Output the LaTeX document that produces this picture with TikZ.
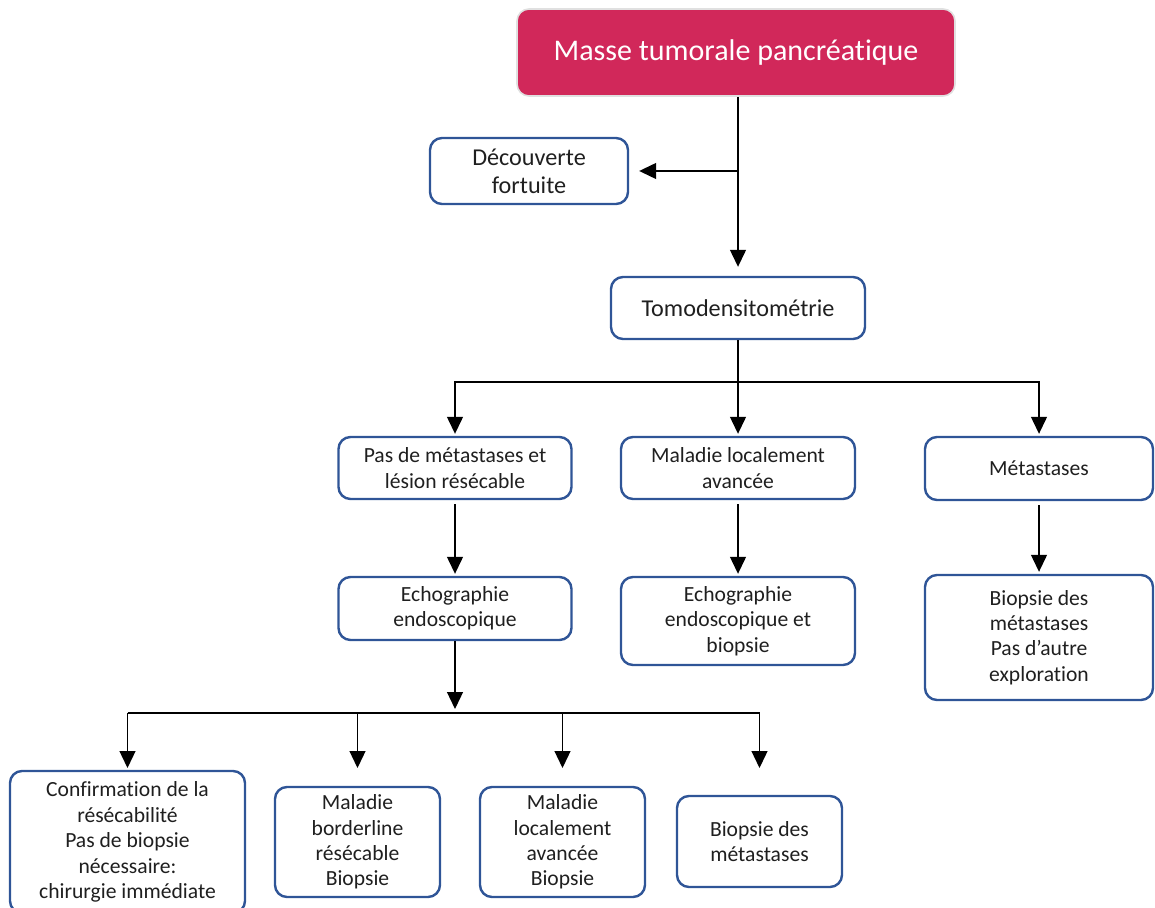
\documentclass[tikz,border=0pt]{standalone}
\usepackage{fontspec}
\setmainfont[Ligatures={NoCommon}]{Carlito}
\usetikzlibrary{arrows.meta}
\definecolor{titlered}{HTML}{D1285A}
\definecolor{boxblue}{HTML}{2F5597}
\tikzset{
	box/.style={draw=boxblue, line width=1.2pt, rounded corners=6pt, align=center, inner sep=0pt,
		text=black!88, font=\fontsize{10.8}{12.7}\selectfont},
	bigtext/.style={font=\fontsize{12.1}{14}\selectfont},
	link/.style={-{Triangle[width=8pt,length=8.5pt]}, line width=0.65pt, shorten >=1pt}
}

\begin{document}
\begin{tikzpicture}[x=0.5pt, y=-0.5pt]
		\useasboundingbox (0, 0) rectangle (1155, 908);
		\node[fill=titlered, draw=black!12, line width=0.8pt, rounded corners=6pt,
			minimum width=219pt, minimum height=43.5pt, text=white,
			font=\fontsize{15}{18}\selectfont] (masse) at (736, 52.5) {Masse tumorale pancréatique};
		\node[box, bigtext, minimum width=99pt, minimum height=33pt] (decouv) at (529, 171) {Découverte\\fortuite};
		\node[box, bigtext, minimum width=127pt, minimum height=31pt] (tomo) at (738, 308) {Tomodensitométrie};
		
		\node[box, minimum width=116.5pt, minimum height=31pt] (pasmeta) at (455, 468) {Pas de métastases et\\lésion résécable};
		\node[box, minimum width=117pt, minimum height=31pt] (malloc) at (738, 468) {Maladie localement\\avancée};
		\node[box, minimum width=114pt, minimum height=31.5pt] (meta) at (1039, 468.5) {Métastases};
		
		\node[box, minimum width=116.5pt, minimum height=31.5pt] (echo) at (455, 608.5) {Echographie\\endoscopique};
		\node[box, minimum width=117pt, minimum height=44pt] (echobiop) at (738, 621) {Echographie\\endoscopique et\\biopsie};
		\node[box, minimum width=114pt, minimum height=62.5pt] (biopmeta) at (1039, 637.5) {Biopsie des\\métastases\\Pas d’autre\\exploration};
		
		\node[box, minimum width=117.5pt, minimum height=71pt] (confirm) at (127.5, 842) {Confirmation de la\\résécabilité\\Pas de biopsie\\nécessaire:\\chirurgie immédiate};
		\node[box, minimum width=82.5pt, minimum height=55pt] (border) at (357.5, 842) {Maladie\\borderline\\résécable\\Biopsie};
		\node[box, minimum width=82.5pt, minimum height=55pt] (locav) at (562.5, 842) {Maladie\\localement\\avancée\\Biopsie};
		\node[box, minimum width=82.5pt, minimum height=45.5pt] (biopm) at (759.5, 841.5) {Biopsie des\\métastases};
		
		\coordinate (split) at (738, 171);
		\coordinate (fork) at (738, 382);
		\coordinate (bus) at (455, 713);
		\coordinate (droptip) at (0, 768);
		
		\draw[link, shorten >=4.5pt] (masse.south -| tomo.north) -- (tomo.north);
		\draw[link, shorten >=5pt] (split) -- (decouv.east);
		
		\draw[link] (tomo.south) -- (malloc.north);
		\foreach \n in {pasmeta, meta} \draw[link] (fork) -| (\n.north);
		\foreach \a/\b in {pasmeta/echo, malloc/echobiop, meta/biopmeta}
			\draw[link, shorten <=2pt] (\a.south) -- (\b.north);
		
		\draw[link, shorten >=2pt] (echo.south) -- (bus);
		\draw[line width=0.65pt] (bus -| confirm.north) -- (bus -| biopm.north);
		\foreach \n in {confirm, border, locav, biopm}
			\draw[link, shorten >=0pt] (bus -| \n.north) -- (\n.north |- droptip);
\end{tikzpicture}
\end{document}
